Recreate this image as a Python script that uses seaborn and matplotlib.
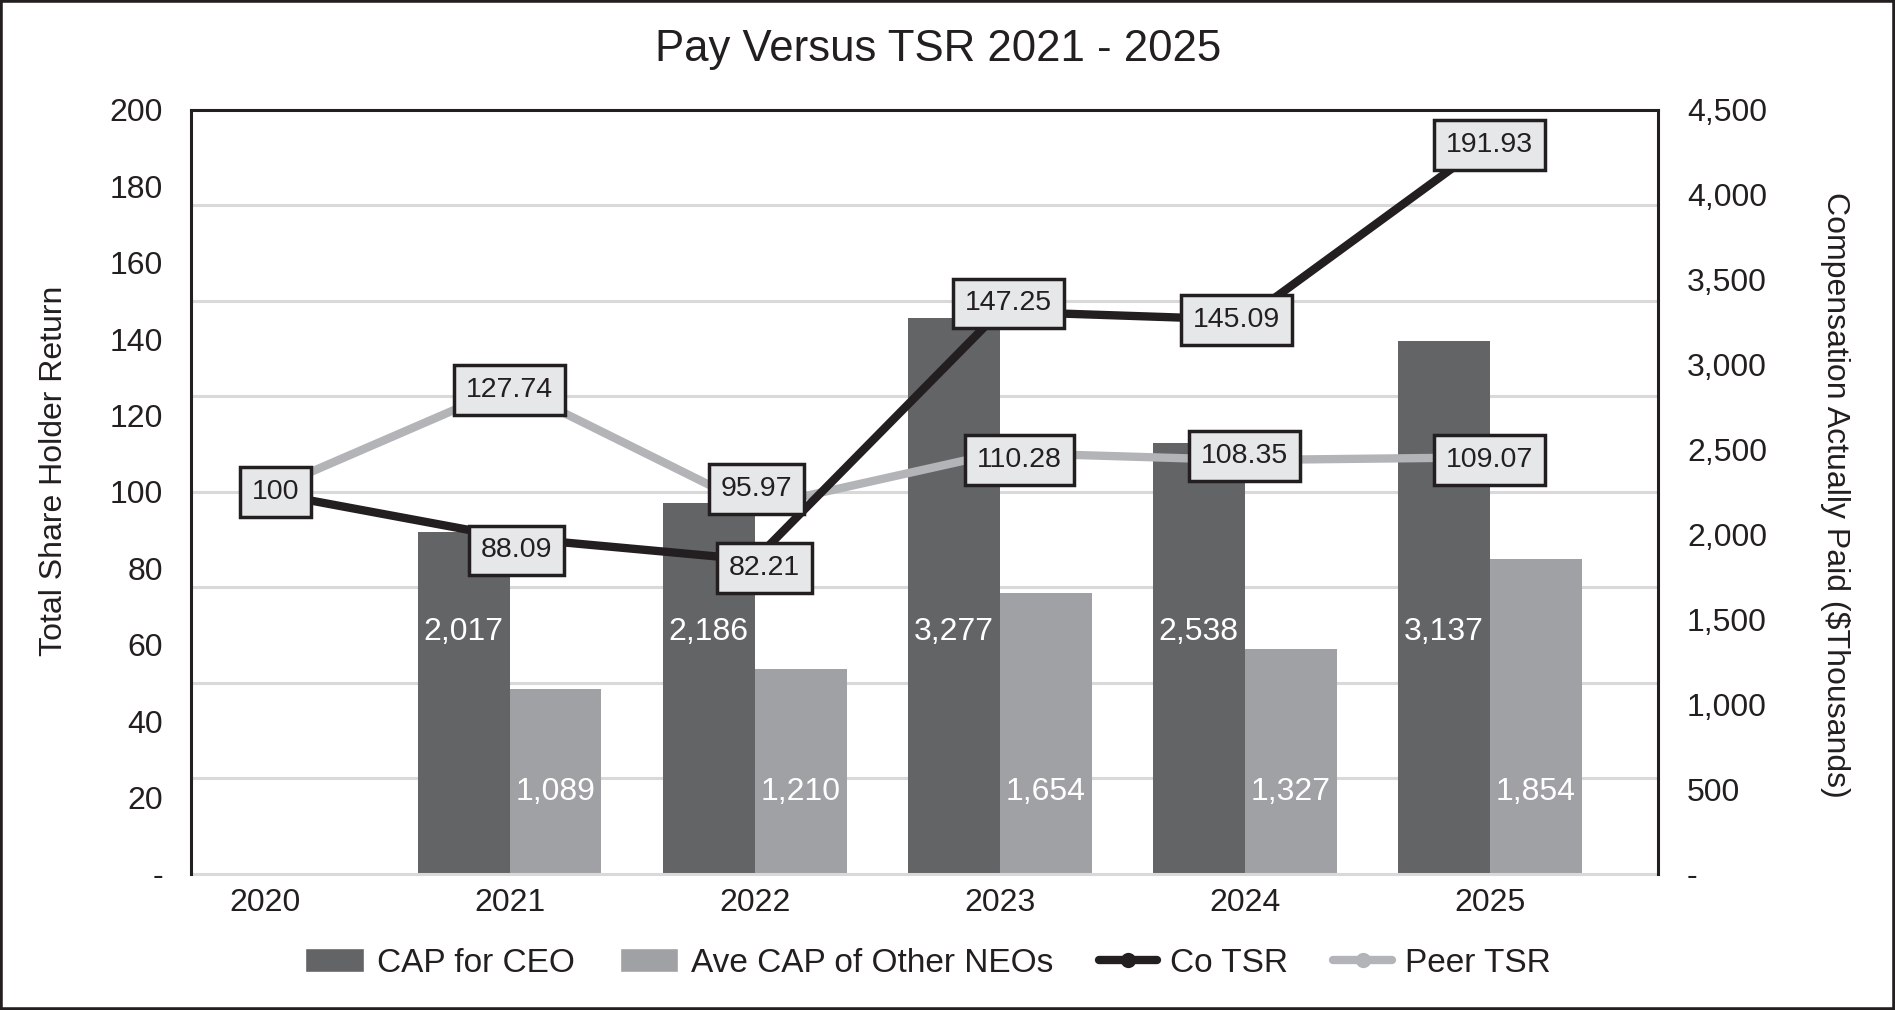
import numpy as np
import pandas as pd
import matplotlib
matplotlib.use('Agg')
import matplotlib.pyplot as plt
import seaborn as sns
from matplotlib.ticker import MultipleLocator
from matplotlib.patches import Rectangle, Patch
from matplotlib.lines import Line2D

# data
years = ['2020', '2021', '2022', '2023', '2024', '2025']
cap_ceo = [np.nan, 2017, 2186, 3277, 2538, 3137]
cap_neo = [np.nan, 1089, 1210, 1654, 1327, 1854]
co_tsr = [100, 88.09, 82.21, 147.25, 145.09, 191.93]
peer_tsr = [100, 127.74, 95.97, 110.28, 108.35, 109.07]

tsr_ticks = list(range(0, 201, 20))
cap_ticks = list(range(0, 4501, 500))

# layout: label box nudges in pixels (right, down), fixed label heights for bar values
co_nudge = [(11, 0), (7, 13), (10, 8), (9, -8), (-8, 0), (0, 4)]
peer_nudge = [None, (0, 4), (2, -18), (20, 7), (0, -4), (0, 3)]
ceo_label_y = 1425
neo_label_y = 485

c_ceo = '#636466'
c_neo = '#a0a1a4'
c_co = '#231f20'
c_peer = '#b3b4b7'
c_grid = '#d9d9d9'

sns.set_theme(style='white')
plt.rcParams['font.family'] = ['Liberation Sans', 'DejaVu Sans']
plt.rcParams['text.color'] = '#231f20'
plt.rcParams['xtick.color'] = '#231f20'
plt.rcParams['ytick.color'] = '#231f20'

fig = plt.figure(figsize=(18.95, 10.10), dpi=100)
ax = fig.add_axes([0.1008, 0.1347, 0.7741, 0.7564])

df = pd.DataFrame({
    'year': years * 2,
    'series': ['CAP for CEO'] * 6 + ['Ave CAP of Other NEOs'] * 6,
    'value': cap_ceo + cap_neo,
}).dropna()

sns.barplot(data=df, x='year', y='value', hue='series', order=years,
            hue_order=['CAP for CEO', 'Ave CAP of Other NEOs'],
            palette=[c_ceo, c_neo], width=0.75, saturation=1,
            errorbar=None, legend=False, linewidth=0, ax=ax)

ax_tsr = ax.twinx()
ax.yaxis.tick_right()
ax_tsr.yaxis.tick_left()

ax.set_ylim(0, 4500)
ax.set_xlim(-0.30, 5.686)
ax.set_yticks(cap_ticks)
ax.set_yticklabels(['-' if v == 0 else f'{v:,}' for v in cap_ticks])
ax.yaxis.set_minor_locator(MultipleLocator(562.5))
ax.grid(False, which='major')
ax.grid(True, which='minor', axis='y', color=c_grid, lw=2.2)
ax.set_axisbelow(True)
ax.tick_params(axis='both', which='both', length=0)
ax.tick_params(axis='y', labelsize=23, pad=21)
ax.tick_params(axis='x', labelsize=23, pad=10)
ax.set_xlabel('')
ax.set_ylabel('')
for s in ['left', 'top', 'right']:
    ax.spines[s].set_visible(False)
ax.spines['bottom'].set_color(c_grid)
ax.spines['bottom'].set_linewidth(2.2)

# bar value labels
for cont, y_lab in zip(ax.containers, [ceo_label_y, neo_label_y]):
    for bar in cont:
        h = bar.get_height()
        if np.isnan(h) or h == 0:
            continue
        ax.text(bar.get_x() + bar.get_width() / 2, y_lab, f'{h:,.0f}',
                ha='center', va='center', color='white', fontsize=23)

pos = np.arange(len(years))
sns.lineplot(x=pos, y=peer_tsr, ax=ax_tsr, color=c_peer, linewidth=6,
             marker='o', markersize=10, markeredgewidth=0, legend=False)
sns.lineplot(x=pos, y=co_tsr, ax=ax_tsr, color=c_co, linewidth=6,
             marker='o', markersize=10, markeredgewidth=0, legend=False)

ax_tsr.set_ylim(0, 200)
ax_tsr.set_yticks(tsr_ticks)
ax_tsr.set_yticklabels(['-' if v == 0 else str(v) for v in tsr_ticks])
ax_tsr.tick_params(axis='y', length=0, labelsize=23, pad=20)
ax_tsr.set_ylabel('')
ax_tsr.grid(False)
for s in ['left', 'top', 'right']:
    ax_tsr.spines[s].set_visible(True)
    ax_tsr.spines[s].set_color(c_co)
    ax_tsr.spines[s].set_linewidth(2.2)
ax_tsr.spines['bottom'].set_visible(False)

box = dict(boxstyle='square,pad=0.42', fc='#e6e7e8', ec=c_co, lw=2.5)
for i, v in enumerate(co_tsr):
    dx, dy = co_nudge[i]
    ax_tsr.annotate(f'{v:g}' if v == 100 else f'{v:.2f}', xy=(pos[i], v),
                    xytext=(dx * 0.72, -dy * 0.72), textcoords='offset points',
                    ha='center', va='center', fontsize=20.5, bbox=box, zorder=6)
for i, v in enumerate(peer_tsr):
    if peer_nudge[i] is None:
        continue
    dx, dy = peer_nudge[i]
    ax_tsr.annotate(f'{v:.2f}', xy=(pos[i], v),
                    xytext=(dx * 0.72, -dy * 0.72), textcoords='offset points',
                    ha='center', va='center', fontsize=20.5, bbox=box, zorder=6)

fig.text(938 / 1895, 1 - 50 / 1010, 'Pay Versus TSR 2021 - 2025',
         ha='center', va='center', fontsize=31.5)
fig.text(54 / 1895, 1 - 471 / 1010, 'Total Share Holder Return',
         ha='center', va='center', rotation=90, fontsize=23)
fig.text(1835 / 1895, 1 - 495 / 1010, 'Compensation Actually Paid ($Thousands)',
         ha='center', va='center', rotation=270, fontsize=23)

handles = [
    Patch(facecolor=c_ceo, label='CAP for CEO'),
    Patch(facecolor=c_neo, label='Ave CAP of Other NEOs'),
    Line2D([], [], color=c_co, lw=6, marker='o', ms=11, mew=0, label='Co TSR'),
    Line2D([], [], color=c_peer, lw=6, marker='o', ms=11, mew=0, label='Peer TSR'),
]
fig.legend(handles=handles, loc='center', bbox_to_anchor=(928 / 1895, 1 - 963 / 1010),
           ncol=4, frameon=False, fontsize=24, handlelength=1.75,
           handletextpad=0.4, columnspacing=1.35)

fig.add_artist(Rectangle((0, 0), 1, 1, transform=fig.transFigure, fill=False,
                         ec=c_co, lw=4))

fig.savefig('out.png', dpi=100)
